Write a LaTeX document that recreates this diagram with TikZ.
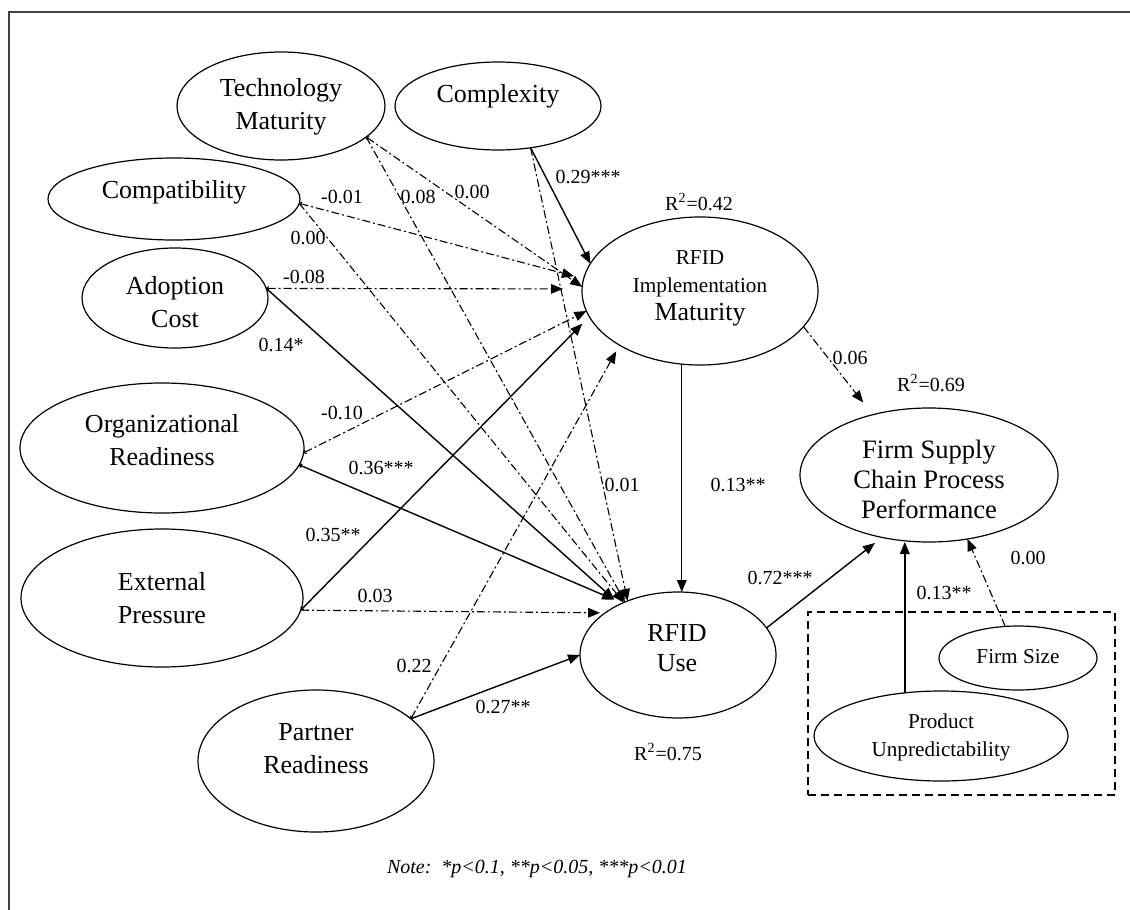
\documentclass[tikz,border=0pt]{standalone}
\usepackage{fontspec}
\setmainfont{Liberation Serif}
\usetikzlibrary{arrows.meta,shapes.geometric}

\tikzset{
  latent/.style={ellipse, draw, line width=0.6pt, inner sep=0pt, outer sep=0pt},
  big/.style={font=\fontsize{13}{16.5}\selectfont, align=center, inner sep=0pt},
  small/.style={font=\fontsize{10.6}{14}\selectfont, align=center, inner sep=0pt},
  coef/.style={font=\fontsize{10}{12}\selectfont, inner sep=0pt},
  solidpath/.style={line width=0.7pt, arrows={-Triangle[length=6pt,width=4.8pt]}},
  dashdot/.style={line width=0.55pt, dash pattern=on 4pt off 1.5pt on 1pt off 1.5pt,
    arrows={-Triangle[length=6pt,width=4.8pt]}},
  fromleft/.style={arrows={Straight Barb[length=0.8pt,width=2pt]-Triangle[length=6pt,width=4.8pt]}},
}

\begin{document}
\begin{tikzpicture}[x=0.5pt,y=-0.5pt]
\useasboundingbox (0,0) rectangle (1130,910);
\fill[white] (0,0) rectangle (1130,910);

% frame (top and left edges)
\draw[line width=1pt, black!75] (1130,12) -- (9,12) -- (9,910);

% constructs
\node[latent, minimum width=104pt, minimum height=54pt] (tm) at (281,106) {};
\node[latent, minimum width=103pt, minimum height=44pt] (cx) at (498,106) {};
\node[latent, minimum width=126pt, minimum height=41pt] (cp) at (174,199) {};
\node[latent, minimum width=93pt,  minimum height=50pt] (ac) at (175,298) {};
\node[latent, minimum width=142pt, minimum height=65pt] (org) at (162,448) {};
\node[latent, minimum width=141pt, minimum height=69pt] (ep) at (162,598) {};
\node[latent, minimum width=118pt, minimum height=71pt] (pr) at (316,761) {};
\node[latent, minimum width=118pt, minimum height=74pt] (im) at (700,291) {};
\node[latent, minimum width=98pt,  minimum height=63pt] (us) at (678,655) {};
\node[latent, minimum width=129pt, minimum height=67pt] (fs) at (929,475) {};
\node[latent, minimum width=79pt,  minimum height=32pt] (fz) at (1018,658) {};
\node[latent, minimum width=127pt, minimum height=45pt] (pu) at (941,736) {};

% construct names
\node[big] (tm-t) at (281,107) {Technology\\Maturity};
\node[big] (cx-t) at (498,96) {Complexity};
\node[big] (cp-t) at (174,192) {Compatibility};
\node[big] (ac-t) at (175,302) {Adoption\\Cost};
\node[big] (org-t) at (162,440) {Organizational\\Readiness};
\node[big] (ep-t) at (162,598) {External\\Pressure};
\node[big] (pr-t) at (316,749) {Partner\\Readiness};
\node[small] (im-t) at (700,288) {RFID\\Implementation\\{\fontsize{13}{14.5}\selectfont Maturity}};
\node[big, font=\fontsize{13}{15}\selectfont] (us-t) at (677,648) {RFID\\Use};
\node[big, font=\fontsize{13.3}{15}\selectfont] (fs-t) at (929,479) {Firm Supply\\Chain Process\\Performance};
\node[small] (fz-t) at (1018,657) {Firm Size};
\node[small] (pu-t) at (941,737) {Product\\Unpredictability};

% control variables group
\node[draw, dashed, dash pattern=on 4pt off 2.5pt, line width=0.75pt, inner sep=0pt,
      minimum width=153.5pt, minimum height=91.5pt] (ctrl) at (961.5,703.5) {};

% paths into RFID implementation maturity
\draw[solidpath] (cx.308) -- (im.166);
\draw[dashdot, fromleft] (tm.-20) -- (im.178);
\draw[dashdot, fromleft, shorten >=5pt] (cp.-2) -- (im.174.5);
\draw[dashdot, fromleft, shorten >=9.5pt] (ac.6) -- (im.179);
\draw[dashdot, fromleft] (org.-2) -- (im.190);
\draw[solidpath, fromleft, shorten >=5pt] (ep.-5) -- (im.193.8);
\draw[dashdot, fromleft, shorten >=3.5pt] (pr.24.4) -- (im.214.5);

% paths into RFID use
\draw[dashdot] (cx.308) -- (us.133.8);
\draw[dashdot] (tm.-20) -- (us.135.3);
\draw[dashdot] (cp.-2) -- (us.136.7);
\draw[solidpath, shorten >=3.75pt] (ac.6) -- (us.139.9);
\draw[solidpath, fromleft, shorten >=4.5pt] (org.-7.5) -- (us.137.7);
\draw[dashdot, shorten >=2.5pt] (ep.-5) -- (us.150.1);
\draw[solidpath] (pr.24.4) -- (us.180.5);
\draw[solidpath] (im.256) -- (im.256 |- us.north);

% paths into supply chain process performance
\draw[dashdot, shorten >=7.75pt] (im.-19.8) -- (fs.133.5);
\draw[solidpath, shorten >=4.5pt] (us.17.8) -- (fs.233);
\draw[solidpath] (pu.130.7) -- (pu.130.7 |- fs.south);
\draw[dashdot] (fz.112.4) -- (fs.301.8);

% coefficients
\node[coef] (c1) at (588,177) {0.29***};
\node[coef] (c2) at (342,197) {-0.01};
\node[coef] (c3) at (418,197) {0.08};
\node[coef] (c4) at (472,192) {0.00};
\node[coef] (c5) at (308,238) {0.00};
\node[coef] (c6) at (304,277) {-0.08};
\node[coef] (c7) at (281,345) {0.14*};
\node[coef] (c8) at (342,413) {-0.10};
\node[coef] (c9) at (381,468) {0.36***};
\node[coef] (c10) at (622,485) {0.01};
\node[coef] (c11) at (333,535) {0.35**};
\node[coef] (c12) at (375,596) {0.03};
\node[coef] (c13) at (414,666) {0.22};
\node[coef] (c14) at (503,707) {0.27**};
\node[coef] (c15) at (738,485) {0.13**};
\node[coef] (c16) at (850,358) {0.06};
\node[coef] (c17) at (780,578) {0.72***};
\node[coef] (c18) at (944,593) {0.13**};
\node[coef] (c19) at (1028,558) {0.00};

% explained variance
\node[coef] (r1) at (699,202) {R\textsuperscript{2}=0.42};
\node[coef] (r2) at (931,383) {R\textsuperscript{2}=0.69};
\node[coef] (r3) at (668,752) {R\textsuperscript{2}=0.75};

% significance note
\node[coef] (note) at (537,869) {\textit{Note:\ \ *p<0.1, **p<0.05, ***p<0.01}};
\end{tikzpicture}
\end{document}
